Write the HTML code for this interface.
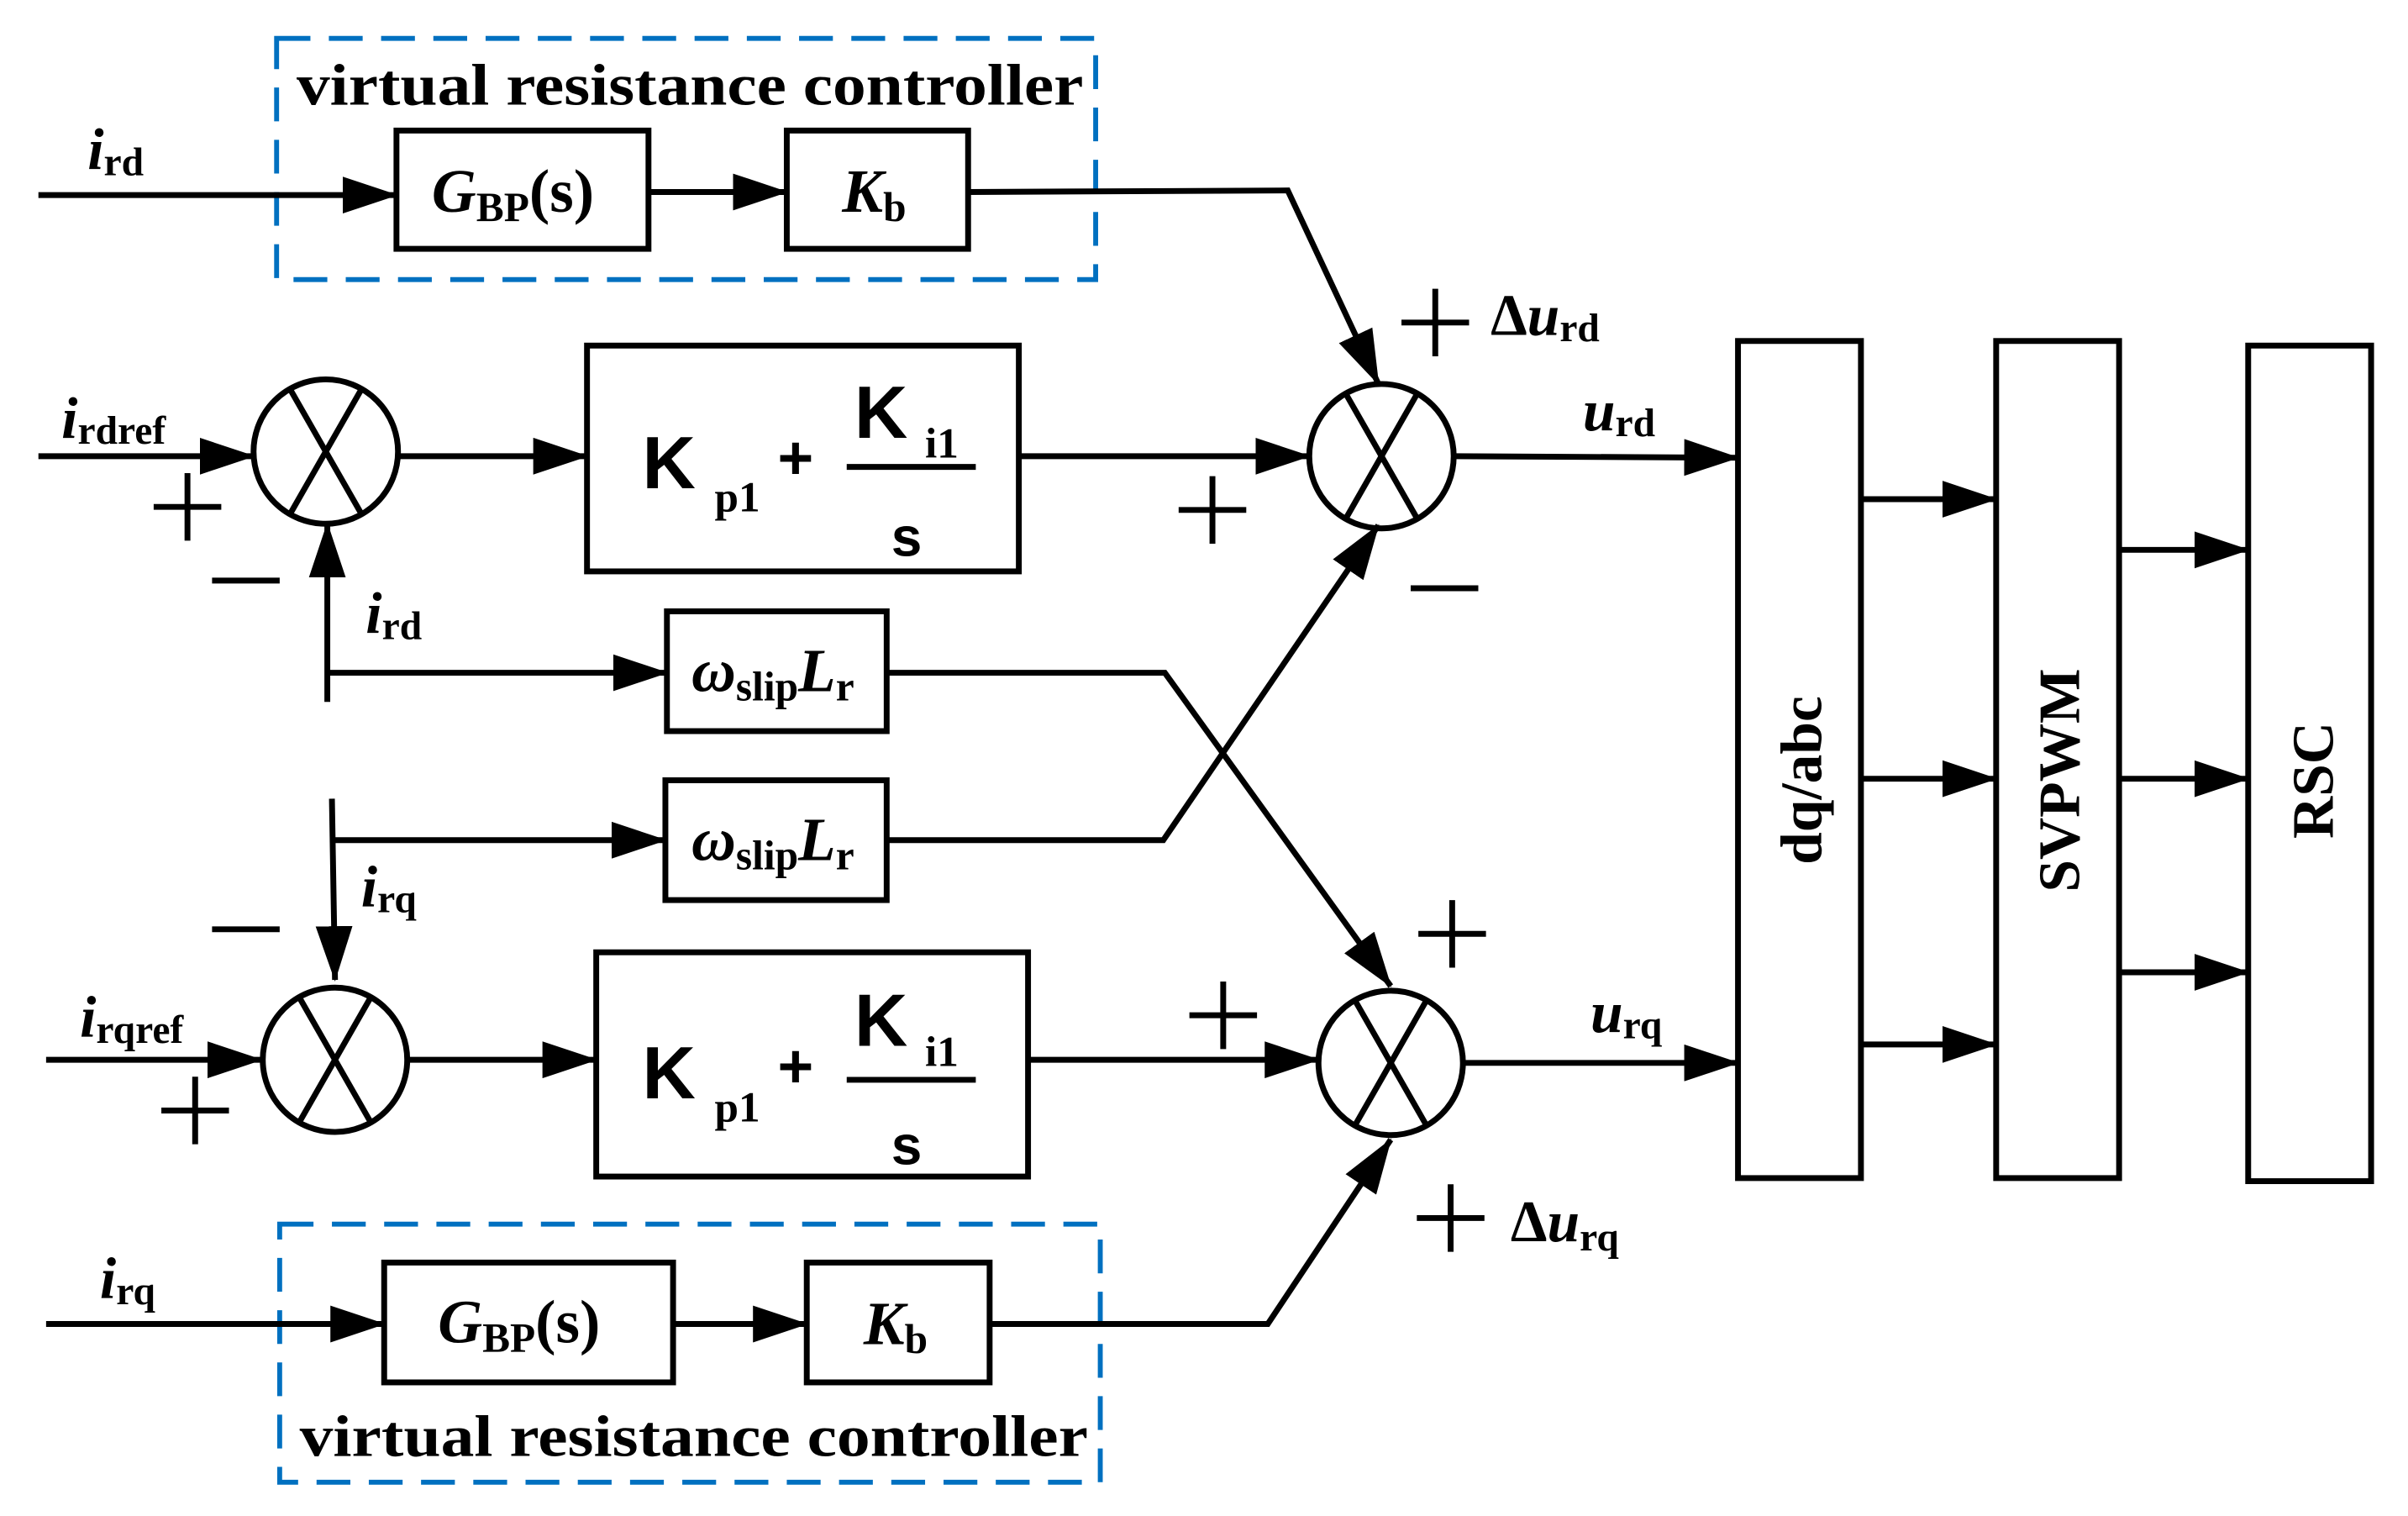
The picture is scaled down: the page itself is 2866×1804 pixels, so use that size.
<!DOCTYPE html>
<html><head><meta charset="utf-8"><style>
html,body{margin:0;padding:0;background:#fff;}
svg{display:block;}
text{font-family:"Liberation Serif",serif;font-weight:bold;fill:#000;}
.s{font-family:"Liberation Sans",sans-serif;}
</style></head><body>
<svg width="2866" height="1804" viewBox="0 0 1567 987" preserveAspectRatio="none" xmlns="http://www.w3.org/2000/svg">
<defs>
<marker id="b" viewBox="0 0 36 24" refX="35" refY="12" markerWidth="36" markerHeight="24" orient="auto" markerUnits="userSpaceOnUse">
<path d="M0,0 L36,12 L0,24 Z" fill="#000"/></marker>
</defs>
<g stroke="#000" stroke-width="3.8" fill="none">
<rect x="180" y="25" width="533" height="157" stroke="#0070c0" stroke-dasharray="22,12" stroke-width="3.2"/>
<rect x="182" y="797" width="534" height="168" stroke="#0070c0" stroke-dasharray="22,12" stroke-width="3.2"/>
<line x1="25" y1="127" x2="258" y2="127" marker-end="url(#b)"/>
<rect x="258" y="85" width="164" height="77"/>
<line x1="422" y1="125" x2="512" y2="125" marker-end="url(#b)"/>
<rect x="512" y="85" width="118" height="77"/>
<polyline points="630,125 838,124 897,250" marker-end="url(#b)"/>
<ellipse cx="212" cy="294" rx="47" ry="47"/>
<line x1="188" y1="252" x2="236" y2="336"/><line x1="236" y1="252" x2="188" y2="336"/>
<ellipse cx="899" cy="297" rx="47" ry="47"/>
<line x1="875" y1="255" x2="923" y2="339"/><line x1="923" y1="255" x2="875" y2="339"/>
<ellipse cx="218" cy="690" rx="47" ry="47"/>
<line x1="194" y1="648" x2="242" y2="732"/><line x1="242" y1="648" x2="194" y2="732"/>
<ellipse cx="905" cy="692" rx="47" ry="47"/>
<line x1="881" y1="650" x2="929" y2="734"/><line x1="929" y1="650" x2="881" y2="734"/>
<line x1="25" y1="297" x2="165" y2="297" marker-end="url(#b)"/>
<line x1="260" y1="297" x2="382" y2="297" marker-end="url(#b)"/>
<rect x="382" y="225" width="281" height="147"/>
<line x1="663" y1="297" x2="852" y2="297" marker-end="url(#b)"/>
<line x1="947" y1="297" x2="1131" y2="298" marker-end="url(#b)"/>
<line x1="213" y1="457" x2="213" y2="341" marker-end="url(#b)"/>
<line x1="213" y1="438" x2="434" y2="438" marker-end="url(#b)"/>
<rect x="434" y="398" width="143" height="78"/>
<polyline points="577,438 758,438 905,642" marker-end="url(#b)"/>
<line x1="216" y1="520" x2="218" y2="638" marker-end="url(#b)"/>
<line x1="216" y1="547" x2="433" y2="547" marker-end="url(#b)"/>
<rect x="433" y="508" width="144" height="78"/>
<polyline points="577,547 757,547 897,342" marker-end="url(#b)"/>
<line x1="30" y1="690" x2="170" y2="690" marker-end="url(#b)"/>
<line x1="266" y1="690" x2="388" y2="690" marker-end="url(#b)"/>
<rect x="388" y="620" width="281" height="146"/>
<line x1="669" y1="690" x2="858" y2="690" marker-end="url(#b)"/>
<line x1="953" y1="692" x2="1131" y2="692" marker-end="url(#b)"/>
<line x1="30" y1="862" x2="250" y2="862" marker-end="url(#b)"/>
<rect x="250" y="822" width="188" height="78"/>
<line x1="438" y1="862" x2="525" y2="862" marker-end="url(#b)"/>
<rect x="525" y="822" width="119" height="78"/>
<polyline points="644,862 825,862 905,742" marker-end="url(#b)"/>
<rect x="1131" y="222" width="80" height="545"/>
<rect x="1299" y="222" width="80" height="545"/>
<rect x="1463" y="225" width="80" height="544"/>
<line x1="1211" y1="325" x2="1299" y2="325" marker-end="url(#b)"/>
<line x1="1211" y1="507" x2="1299" y2="507" marker-end="url(#b)"/>
<line x1="1211" y1="680" x2="1299" y2="680" marker-end="url(#b)"/>
<line x1="1379" y1="358" x2="1463" y2="358" marker-end="url(#b)"/>
<line x1="1379" y1="507" x2="1463" y2="507" marker-end="url(#b)"/>
<line x1="1379" y1="633" x2="1463" y2="633" marker-end="url(#b)"/>
<line x1="551" y1="304" x2="635" y2="304"/>
<line x1="551" y1="703" x2="635" y2="703"/>
</g>
<g stroke="#000" stroke-width="3.8">
<path d="M100,330 h44 M122,308 v44"/>
<path d="M138,378 h44"/>
<path d="M912,210 h44 M934,188 v44"/>
<path d="M767,332 h44 M789,310 v44"/>
<path d="M918,383 h44"/>
<path d="M138,605 h44"/>
<path d="M105,723 h44 M127,701 v44"/>
<path d="M774,661 h44 M796,639 v44"/>
<path d="M923,608 h44 M945,586 v44"/>
<path d="M922,793 h44 M944,771 v44"/>
</g>
<text x="193" y="68" font-size="38" textLength="512" lengthAdjust="spacingAndGlyphs">virtual resistance controller</text>
<text x="195" y="948" font-size="38" textLength="513" lengthAdjust="spacingAndGlyphs">virtual resistance controller</text>
<text x="57" y="110" font-size="38" font-style="italic">i<tspan font-style="normal" font-size="26" dy="4">rd</tspan></text>
<text x="40" y="285" font-size="38" font-style="italic">i<tspan font-style="normal" font-size="26" dy="4">rdref</tspan></text>
<text x="238" y="412" font-size="38" font-style="italic">i<tspan font-style="normal" font-size="26" dy="4">rd</tspan></text>
<text x="235" y="590" font-size="38" font-style="italic">i<tspan font-style="normal" font-size="26" dy="4">rq</tspan></text>
<text x="52" y="675" font-size="38" font-style="italic">i<tspan font-style="normal" font-size="26" dy="4">rqref</tspan></text>
<text x="65" y="845" font-size="38" font-style="italic">i<tspan font-style="normal" font-size="26" dy="4">rq</tspan></text>
<text x="281" y="138" font-size="40" font-style="italic">G<tspan font-style="normal" font-size="27" dy="6">BP</tspan><tspan font-style="normal" font-size="40" dy="-6">(s)</tspan></text>
<text x="285" y="874" font-size="40" font-style="italic">G<tspan font-style="normal" font-size="27" dy="6">BP</tspan><tspan font-style="normal" font-size="40" dy="-6">(s)</tspan></text>
<text x="548" y="138" font-size="40" font-style="italic">K<tspan font-style="normal" font-size="27" dy="6">b</tspan></text>
<text x="562" y="875" font-size="40" font-style="italic">K<tspan font-style="normal" font-size="27" dy="6">b</tspan></text>
<text x="450" y="450" font-size="40" font-style="italic">ω<tspan font-style="normal" font-size="27" dy="6">slip</tspan><tspan dy="-6">L</tspan><tspan font-style="normal" font-size="27" dy="6">r</tspan></text>
<text x="450" y="560" font-size="40" font-style="italic">ω<tspan font-style="normal" font-size="27" dy="6">slip</tspan><tspan dy="-6">L</tspan><tspan font-style="normal" font-size="27" dy="6">r</tspan></text>
<text x="970" y="218" font-size="38">Δ<tspan font-style="italic">u</tspan><tspan font-size="26" dy="4">rd</tspan></text>
<text x="1030" y="280" font-size="38" font-style="italic">u<tspan font-style="normal" font-size="26" dy="4">rd</tspan></text>
<text x="1035" y="672" font-size="38" font-style="italic">u<tspan font-style="normal" font-size="26" dy="4">rq</tspan></text>
<text x="983" y="808" font-size="38">Δ<tspan font-style="italic">u</tspan><tspan font-size="26" dy="6">rq</tspan></text>
<text class="s" x="418" y="318" font-size="48">K</text>
<text x="465" y="333" font-size="28">p1</text>
<text class="s" x="506" y="312" font-size="40">+</text>
<text class="s" x="556" y="285" font-size="48">K</text>
<text x="602" y="298" font-size="28">i1</text>
<text class="s" x="580" y="362" font-size="36">s</text>
<text class="s" x="418" y="715" font-size="48">K</text>
<text x="465" y="730" font-size="28">p1</text>
<text class="s" x="506" y="708" font-size="40">+</text>
<text class="s" x="556" y="681" font-size="48">K</text>
<text x="602" y="694" font-size="28">i1</text>
<text class="s" x="580" y="758" font-size="36">s</text>
<text x="0" y="0" font-size="38" text-anchor="middle" transform="translate(1185,508) rotate(-90)">dq/abc</text>
<text x="0" y="0" font-size="38" text-anchor="middle" transform="translate(1353,508) rotate(-90)">SVPWM</text>
<text x="0" y="0" font-size="38" text-anchor="middle" transform="translate(1518,508) rotate(-90)">RSC</text>
</svg>
</body></html>
